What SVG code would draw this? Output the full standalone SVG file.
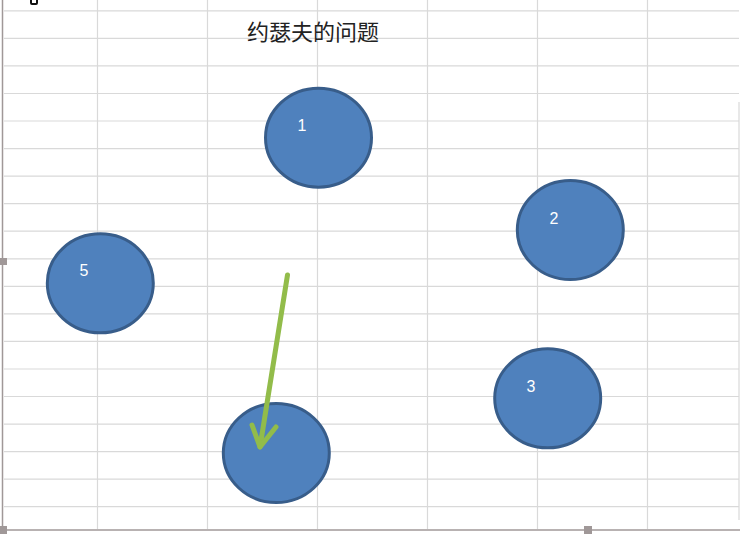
<svg xmlns="http://www.w3.org/2000/svg" width="740" height="548" viewBox="0 0 740 548">
<style>
.grid line{stroke:#d9d9d9;stroke-width:1.2}
.node ellipse{fill:#4f81bd;stroke:#385d8a;stroke-width:3}
.lbl{font-family:"Liberation Sans","Noto Sans",sans-serif;font-size:16px;fill:#ffffff;text-anchor:middle}
.title{font-family:"Noto Sans CJK SC",sans-serif;font-size:22px;fill:#222222}
.handle{fill:#a09898}
</style>
<rect width="740" height="548" fill="#ffffff"/>
<g class="grid">
<line x1="4" y1="10.8" x2="739" y2="10.8"/>
<line x1="4" y1="38.4" x2="739" y2="38.4"/>
<line x1="4" y1="65.9" x2="739" y2="65.9"/>
<line x1="4" y1="93.5" x2="739" y2="93.5"/>
<line x1="4" y1="121" x2="739" y2="121"/>
<line x1="4" y1="148.6" x2="739" y2="148.6"/>
<line x1="4" y1="176.1" x2="739" y2="176.1"/>
<line x1="4" y1="203.7" x2="739" y2="203.7"/>
<line x1="4" y1="231.2" x2="739" y2="231.2"/>
<line x1="4" y1="258.8" x2="739" y2="258.8"/>
<line x1="4" y1="286.3" x2="739" y2="286.3"/>
<line x1="4" y1="313.9" x2="739" y2="313.9"/>
<line x1="4" y1="341.4" x2="739" y2="341.4"/>
<line x1="4" y1="369" x2="739" y2="369"/>
<line x1="4" y1="396.5" x2="739" y2="396.5"/>
<line x1="4" y1="424.1" x2="739" y2="424.1"/>
<line x1="4" y1="451.6" x2="739" y2="451.6"/>
<line x1="4" y1="479.2" x2="739" y2="479.2"/>
<line x1="4" y1="506.7" x2="739" y2="506.7"/>
<line x1="97.5" y1="0" x2="97.5" y2="529"/>
<line x1="207.5" y1="0" x2="207.5" y2="529"/>
<line x1="317.5" y1="0" x2="317.5" y2="529"/>
<line x1="427.5" y1="0" x2="427.5" y2="529"/>
<line x1="537.5" y1="0" x2="537.5" y2="529"/>
<line x1="647.5" y1="0" x2="647.5" y2="529"/>
<line x1="739" y1="102" x2="739" y2="520"/>
</g>
<line x1="2.5" y1="0" x2="2.5" y2="530" stroke="#a09898" stroke-width="1.5"/>
<line x1="2.5" y1="530" x2="740" y2="530" stroke="#a09898" stroke-width="1.5"/>
<rect class="handle" x="0" y="258" width="7" height="7"/>
<rect class="handle" x="0" y="526" width="7" height="8"/>
<rect class="handle" x="584" y="526" width="8" height="8"/>
<rect x="31" y="-3" width="6" height="7" rx="1" fill="none" stroke="#111111" stroke-width="2"/>
<text class="title" x="247" y="40">约瑟夫的问题</text>
<g id="node1" class="node"><ellipse cx="318.5" cy="137.7" rx="53" ry="49.5"/><text class="lbl" x="302" y="131">1</text></g>
<g id="node2" class="node"><ellipse cx="570.3" cy="230" rx="53" ry="49.5"/><text class="lbl" x="554" y="224">2</text></g>
<g id="node3" class="node"><ellipse cx="547.7" cy="398.3" rx="53" ry="49.5"/><text class="lbl" x="531" y="392">3</text></g>
<g id="node4" class="node"><ellipse cx="276.3" cy="453" rx="53" ry="49.5"/></g>
<g id="node5" class="node"><ellipse cx="100.3" cy="283.3" rx="53" ry="49.5"/><text class="lbl" x="84" y="276">5</text></g>
<g id="connectors" fill="none" stroke="#92bc4a" stroke-width="5" stroke-linecap="round" stroke-linejoin="round">
<line x1="287.5" y1="275" x2="260" y2="447"/>
<polyline points="252,425 260,447 276,427"/>
</g>
</svg>
